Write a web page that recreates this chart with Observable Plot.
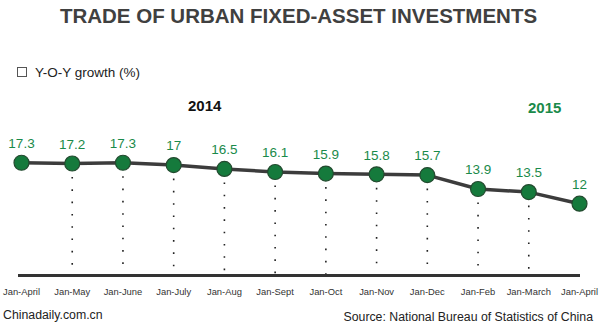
<!DOCTYPE html>
<html>
<head>
<meta charset="utf-8">
<script src="https://cdn.jsdelivr.net/npm/d3@7"></script>
<script src="https://cdn.jsdelivr.net/npm/@observablehq/plot@0.6"></script>
<style>
  html, body { margin: 0; padding: 0; background: #fff; }
  #wrap { position: relative; width: 600px; height: 328px; overflow: hidden; font-family: "Liberation Sans", Arial, sans-serif; }
  #wrap svg { position: absolute; left: 0; top: 0; }
  .t { position: absolute; line-height: 1; white-space: nowrap; }
</style>
</head>
<body>
<div id="wrap">
  <div class="t" id="title" style="left:0;width:597px;text-align:center;top:5.6px;font-size:20.5px;font-weight:bold;color:#404040;">TRADE OF URBAN FIXED-ASSET INVESTMENTS</div>
  <div class="t" style="left:17px;top:67px;width:8px;height:8px;border:1.5px solid #555;"></div>
  <div class="t" style="left:35px;top:65.6px;font-size:13.5px;color:#222;">Y-O-Y growth (%)</div>
  <div class="t" style="left:188px;top:98.3px;font-size:15px;font-weight:bold;color:#111;">2014</div>
  <div class="t" style="left:528px;top:100.3px;font-size:15px;font-weight:bold;color:#1a8a4a;">2015</div>
  <div class="t" style="left:3px;top:309.4px;font-size:12.3px;color:#222;">Chinadaily.com.cn</div>
  <div class="t" style="right:7px;top:310.6px;font-size:12.3px;color:#222;">Source: National Bureau of Statistics of China</div>
</div>
<script>
const periods = ["Jan-April","Jan-May","Jan-June","Jan-July","Jan-Aug","Jan-Sept","Jan-Oct","Jan-Nov","Jan-Dec","Jan-Feb","Jan-March","Jan-April"];
const years = [2014,2014,2014,2014,2014,2014,2014,2014,2014,2015,2015,2015];
const growth = [17.3,17.2,17.3,17,16.5,16.1,15.9,15.8,15.7,13.9,13.5,12];

const yMin = 2.7;
const data = periods.map((p, i) => ({i, period: p, year: years[i], value: growth[i]}));

const chart = Plot.plot({
  width: 600,
  height: 328,
  marginLeft: 21,
  marginRight: 21,
  marginTop: 141.4,
  marginBottom: 53,
  x: {type: "linear", domain: [0, periods.length - 1], axis: null, label: null},
  y: {domain: [yMin, 20], axis: null, label: null},
  style: {fontFamily: "Liberation Sans, Arial, sans-serif", background: "transparent", overflow: "visible"},
  marks: [
    Plot.ruleX(data.filter(d => d.i > 0 && d.i < periods.length - 1), {
      x: "i", y1: "value", y2: yMin, insetTop: 14,
      stroke: "#222", strokeWidth: 1.6, strokeDasharray: "1.6 10.7"
    }),
    Plot.ruleY([yMin], {stroke: "#333", strokeWidth: 3.2, insetLeft: -3, insetRight: -1}),
    Plot.axisX({
      ticks: d3.range(periods.length),
      tickFormat: i => periods[i],
      label: null,
      tickSize: 0, tickPadding: 13, fontSize: 9.4, fill: "#333"
    }),
    Plot.line(data, {x: "i", y: "value", stroke: "#3c3c3c", strokeWidth: 3.5}),
    Plot.dot(data, {x: "i", y: "value", r: 7.5, fill: "#157a3c", stroke: "#234a2f", strokeWidth: 1.2}),
    Plot.text(data, {x: "i", y: "value", text: d => String(d.value), dy: -19, fill: "#1a8a4a", fontSize: 13.5})
  ]
});
document.getElementById("wrap").prepend(chart);
</script>
</body>
</html>
